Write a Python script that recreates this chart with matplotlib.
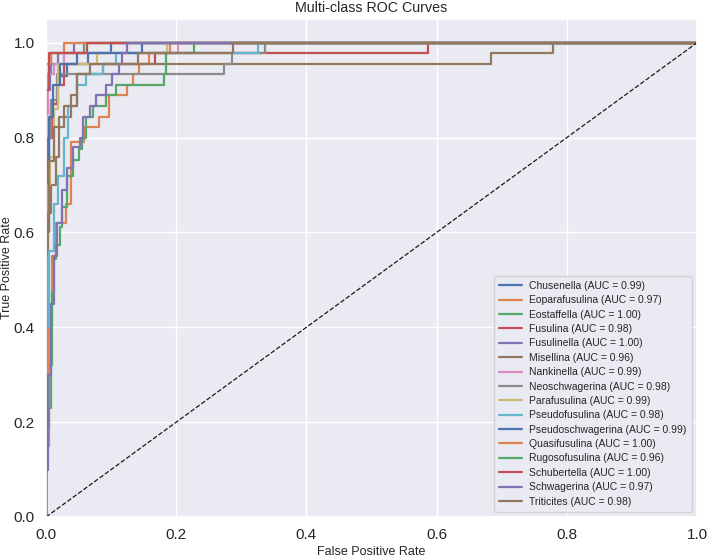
import matplotlib
matplotlib.use("Agg")
import matplotlib.pyplot as plt
import seaborn as sns

sns.set_theme(style="darkgrid")
plt.rcParams['font.family'] = ['Liberation Sans', 'DejaVu Sans']

classes = ["Chusenella", "Eoparafusulina", "Eostaffella", "Fusulina", "Fusulinella",
           "Misellina", "Nankinella", "Neoschwagerina", "Parafusulina", "Pseudofusulina",
           "Pseudoschwagerina", "Quasifusulina", "Rugosofusulina", "Schubertella",
           "Schwagerina", "Triticites"]
auc_values = [0.99, 0.97, 1.00, 0.98, 1.00, 0.96, 0.99, 0.98, 0.99, 0.98,
              0.99, 1.00, 0.96, 1.00, 0.97, 0.98]

fpr_chusenella = [0, 0, 0.004, 0.004, 0.008, 0.008, 0.018, 0.018, 0.032, 0.032, 0.065, 0.065, 0.10, 0.10, 1]
tpr_chusenella = [0, 0.60, 0.60, 0.80, 0.80, 0.87, 0.87, 0.93, 0.93, 0.956, 0.956, 0.978, 0.978, 1, 1]

fpr_eoparafusulina = [0, 0, 0.004, 0.004, 0.009, 0.009, 0.016, 0.016, 0.030, 0.030, 0.038, 0.038,
                      0.058, 0.058, 0.082, 0.082, 0.097, 0.097, 0.125, 0.125, 0.134, 0.134,
                      0.143, 0.143, 0.158, 0.158, 0.190, 0.190, 1]
tpr_eoparafusulina = [0, 0.15, 0.15, 0.40, 0.40, 0.55, 0.55, 0.62, 0.62, 0.66, 0.66, 0.79,
                      0.79, 0.822, 0.822, 0.844, 0.844, 0.889, 0.889, 0.911, 0.911, 0.934,
                      0.934, 0.956, 0.956, 0.978, 0.978, 1, 1]

fpr_eostaffella = [0, 0, 0.008, 0.008, 0.058, 0.058, 1]
tpr_eostaffella = [0, 0.934, 0.934, 0.978, 0.978, 1, 1]

fpr_fusulina = [0, 0, 0.003, 0.003, 0.009, 0.009, 0.017, 0.017, 0.027, 0.027, 0.168, 0.168, 0.587, 0.587, 1]
tpr_fusulina = [0, 0.70, 0.70, 0.80, 0.80, 0.87, 0.87, 0.911, 0.911, 0.956, 0.956, 0.978, 0.978, 1, 1]

fpr_fusulinella = [0, 0, 0.006, 0.006, 0.018, 0.018, 0.043, 0.043, 1]
tpr_fusulinella = [0, 0.90, 0.90, 0.956, 0.956, 0.978, 0.978, 1, 1]

fpr_misellina = [0, 0, 0.003, 0.003, 0.008, 0.008, 0.015, 0.015, 0.020, 0.020, 0.038, 0.038,
                 0.048, 0.048, 0.088, 0.088, 0.684, 0.684, 0.779, 0.779, 1]
tpr_misellina = [0, 0.55, 0.55, 0.64, 0.64, 0.70, 0.70, 0.76, 0.76, 0.844, 0.844, 0.889,
                 0.889, 0.934, 0.934, 0.956, 0.956, 0.978, 0.978, 1, 1]

fpr_nankinella = [0, 0, 0.003, 0.003, 0.012, 0.012, 0.028, 0.028, 0.203, 0.203, 1]
tpr_nankinella = [0, 0.85, 0.85, 0.934, 0.934, 0.956, 0.956, 0.978, 0.978, 1, 1]

fpr_neoschwagerina = [0, 0, 0.007, 0.007, 0.017, 0.017, 0.273, 0.273, 0.286, 0.286, 0.336, 0.336, 1]
tpr_neoschwagerina = [0, 0.80, 0.80, 0.88, 0.88, 0.934, 0.934, 0.956, 0.956, 0.978, 0.978, 1, 1]

fpr_parafusulina = [0, 0, 0.006, 0.006, 0.012, 0.012, 0.018, 0.018, 0.078, 0.078, 0.186, 0.186, 1]
tpr_parafusulina = [0, 0.70, 0.70, 0.76, 0.76, 0.86, 0.86, 0.956, 0.956, 0.978, 0.978, 1, 1]

fpr_pseudofusulina = [0, 0, 0.005, 0.005, 0.012, 0.012, 0.019, 0.019, 0.027, 0.027, 0.034, 0.034,
                      0.047, 0.047, 0.062, 0.062, 0.087, 0.087, 0.108, 0.108, 0.326, 0.326, 1]
tpr_pseudofusulina = [0, 0.40, 0.40, 0.56, 0.56, 0.66, 0.66, 0.72, 0.72, 0.80, 0.80, 0.867,
                      0.867, 0.911, 0.911, 0.934, 0.934, 0.956, 0.956, 0.978, 0.978, 1, 1]

fpr_pseudoschwagerina = [0, 0, 0.004, 0.004, 0.010, 0.010, 0.022, 0.022, 0.048, 0.048, 0.148, 0.148, 1]
tpr_pseudoschwagerina = [0, 0.75, 0.75, 0.844, 0.844, 0.911, 0.911, 0.956, 0.956, 0.978, 0.978, 1, 1]

fpr_quasifusulina = [0, 0, 0.008, 0.008, 0.027, 0.027, 1]
tpr_quasifusulina = [0, 0.956, 0.956, 0.978, 0.978, 1, 1]

fpr_rugosofusulina = [0, 0, 0.005, 0.005, 0.007, 0.007, 0.009, 0.009, 0.012, 0.012, 0.016, 0.016,
                      0.021, 0.021, 0.024, 0.024, 0.033, 0.033, 0.041, 0.041, 0.051, 0.051,
                      0.056, 0.056, 0.062, 0.062, 0.072, 0.072, 0.092, 0.092, 0.107, 0.107,
                      0.181, 0.181, 0.185, 0.185, 0.227, 0.227, 1]
tpr_rugosofusulina = [0, 0.19, 0.19, 0.23, 0.23, 0.32, 0.32, 0.474, 0.474, 0.545, 0.545, 0.573,
                      0.573, 0.611, 0.611, 0.653, 0.653, 0.72, 0.72, 0.752, 0.752, 0.776,
                      0.776, 0.80, 0.80, 0.844, 0.844, 0.867, 0.867, 0.889, 0.889, 0.911,
                      0.911, 0.934, 0.934, 0.978, 0.978, 1, 1]

fpr_schubertella = [0, 0, 0.004, 0.004, 0.063, 0.063, 1]
tpr_schubertella = [0, 0.90, 0.90, 0.978, 0.978, 1, 1]

fpr_schwagerina = [0, 0, 0.003, 0.003, 0.007, 0.007, 0.012, 0.012, 0.017, 0.017, 0.025, 0.025,
                   0.032, 0.032, 0.042, 0.042, 0.052, 0.052, 0.057, 0.057, 0.067, 0.067,
                   0.077, 0.077, 0.092, 0.092, 0.102, 0.102, 0.112, 0.112, 0.117, 0.117,
                   0.124, 0.124, 1]
tpr_schwagerina = [0, 0.10, 0.10, 0.30, 0.30, 0.45, 0.45, 0.55, 0.55, 0.62, 0.62, 0.69,
                   0.69, 0.735, 0.735, 0.78, 0.78, 0.80, 0.80, 0.844, 0.844, 0.867,
                   0.867, 0.889, 0.889, 0.911, 0.911, 0.934, 0.934, 0.956, 0.956, 0.978,
                   0.978, 1, 1]

fpr_triticites = [0, 0, 0.005, 0.005, 0.012, 0.012, 0.027, 0.027, 0.047, 0.047, 0.067, 0.067,
                  0.141, 0.141, 0.288, 0.288, 1]
tpr_triticites = [0, 0.60, 0.60, 0.75, 0.75, 0.822, 0.822, 0.867, 0.867, 0.934, 0.934, 0.956,
                  0.956, 0.978, 0.978, 1, 1]

fpr_list = [fpr_chusenella, fpr_eoparafusulina, fpr_eostaffella, fpr_fusulina, fpr_fusulinella,
            fpr_misellina, fpr_nankinella, fpr_neoschwagerina, fpr_parafusulina, fpr_pseudofusulina,
            fpr_pseudoschwagerina, fpr_quasifusulina, fpr_rugosofusulina, fpr_schubertella,
            fpr_schwagerina, fpr_triticites]
tpr_list = [tpr_chusenella, tpr_eoparafusulina, tpr_eostaffella, tpr_fusulina, tpr_fusulinella,
            tpr_misellina, tpr_nankinella, tpr_neoschwagerina, tpr_parafusulina, tpr_pseudofusulina,
            tpr_pseudoschwagerina, tpr_quasifusulina, tpr_rugosofusulina, tpr_schubertella,
            tpr_schwagerina, tpr_triticites]

palette = sns.color_palette("deep", 10)

fig = plt.figure(figsize=(7.09, 5.60), dpi=100)
ax = fig.add_axes([46 / 709, 1 - 517 / 560, 651 / 709, 498 / 560])

for i, name in enumerate(classes):
    ax.plot(fpr_list[i], tpr_list[i], color=palette[i % 10], lw=1.6,
            label=f"{name} (AUC = {auc_values[i]:.2f})")

ax.plot([0, 1], [0, 1], 'k--', lw=0.9)
ax.set_xlim(0.0, 1.0)
ax.set_ylim(0.0, 1.05)
ax.set_xticks([0, 0.2, 0.4, 0.6, 0.8, 1.0])
ax.set_yticks([0, 0.2, 0.4, 0.6, 0.8, 1.0])
ax.tick_params(axis='both', labelsize=11, colors='#262626', pad=2)
ax.set_xlabel("False Positive Rate", fontsize=9)
ax.set_ylabel("True Positive Rate", fontsize=9)
ax.xaxis.set_label_coords(0.5, -0.058)
ax.yaxis.set_label_coords(-0.05, 0.5)
ax.set_title("Multi-class ROC Curves", fontsize=10.3, pad=5)
ax.legend(loc="lower right", fontsize=7.5, labelspacing=0.42, handlelength=2.2,
          borderpad=0.5, handletextpad=0.7)

fig.savefig("out.png", dpi=100)
